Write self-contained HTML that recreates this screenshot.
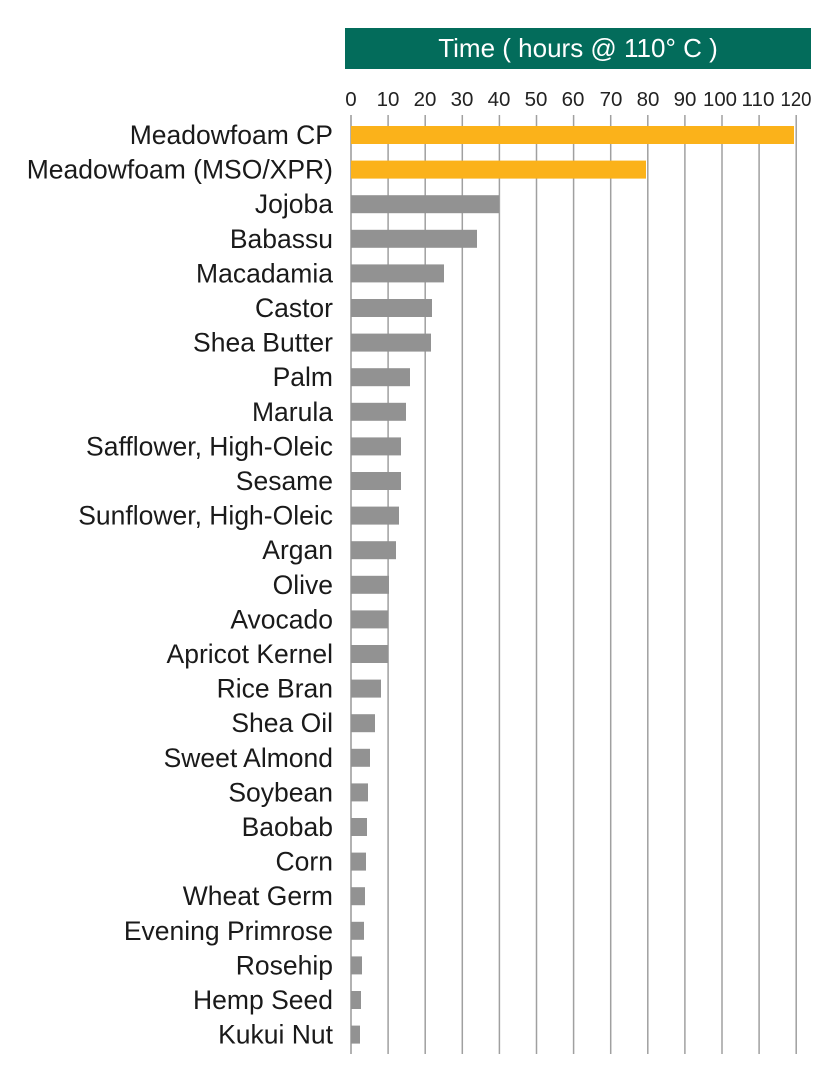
<!DOCTYPE html>
<html><head><meta charset="utf-8"><style>
html,body{margin:0;padding:0;background:#fff;}
svg{display:block;font-family:"Liberation Sans",sans-serif;}
</style></head><body>
<svg width="837" height="1080" xmlns="http://www.w3.org/2000/svg">
<rect x="345" y="28" width="466" height="41" fill="#036c5b"/>
<text x="578" y="57" fill="#fff" font-size="26" text-anchor="middle">Time ( hours @ 110° C )</text>
<g id="grid" stroke="#a0a0a0" stroke-width="1.5">
<line x1="351" y1="115" x2="351" y2="1054" stroke="#999"/>
<line x1="388.1" y1="115" x2="388.1" y2="1054"/>
<line x1="425.2" y1="115" x2="425.2" y2="1054"/>
<line x1="462.3" y1="115" x2="462.3" y2="1054"/>
<line x1="499.4" y1="115" x2="499.4" y2="1054"/>
<line x1="536.5" y1="115" x2="536.5" y2="1054"/>
<line x1="573.6" y1="115" x2="573.6" y2="1054"/>
<line x1="610.7" y1="115" x2="610.7" y2="1054"/>
<line x1="647.8" y1="115" x2="647.8" y2="1054"/>
<line x1="684.9" y1="115" x2="684.9" y2="1054"/>
<line x1="722" y1="115" x2="722" y2="1054"/>
<line x1="759.1" y1="115" x2="759.1" y2="1054"/>
<line x1="796.2" y1="115" x2="796.2" y2="1054"/>
</g>
<g font-size="20.5" fill="#222" text-anchor="middle">
<text x="351" y="106">0</text><text x="388" y="106">10</text><text x="425" y="106">20</text><text x="462" y="106">30</text><text x="499" y="106">40</text><text x="536" y="106">50</text><text x="573" y="106">60</text><text x="611" y="106">70</text><text x="648" y="106">80</text><text x="685" y="106">90</text><text x="720" y="106" textLength="34" lengthAdjust="spacingAndGlyphs">100</text><text x="758" y="106" textLength="33" lengthAdjust="spacingAndGlyphs">110</text><text x="796" y="106" textLength="31" lengthAdjust="spacingAndGlyphs">120</text>
</g>
<g id="bars"></g>
<g id="labels" font-size="26.5" fill="#1a1a1a" text-anchor="end"></g>
<script>
var d=[["Meadowfoam CP",794,1],["Meadowfoam (MSO/XPR)",646,1],["Jojoba",499],["Babassu",477],["Macadamia",444],["Castor",432],["Shea Butter",431],["Palm",410],["Marula",406],["Safflower, High-Oleic",401],["Sesame",401],["Sunflower, High-Oleic",399],["Argan",396],["Olive",389],["Avocado",388],["Apricot Kernel",388],["Rice Bran",381],["Shea Oil",375],["Sweet Almond",370],["Soybean",368],["Baobab",367],["Corn",366],["Wheat Germ",365],["Evening Primrose",364],["Rosehip",362],["Hemp Seed",361],["Kukui Nut",360]];
var ns="http://www.w3.org/2000/svg",b=document.getElementById("bars"),l=document.getElementById("labels");
d.forEach(function(r,i){var c=135+34.6*i;
var e=document.createElementNS(ns,"rect");e.setAttribute("x",351);e.setAttribute("y",c-9);e.setAttribute("width",r[1]-351);e.setAttribute("height",18);e.setAttribute("fill",r[2]?"#fbb21a":"#929292");b.appendChild(e);
var t=document.createElementNS(ns,"text");t.setAttribute("x",333);t.setAttribute("y",c+9);t.textContent=r[0];l.appendChild(t);});
</script>
</svg>
</body></html>
